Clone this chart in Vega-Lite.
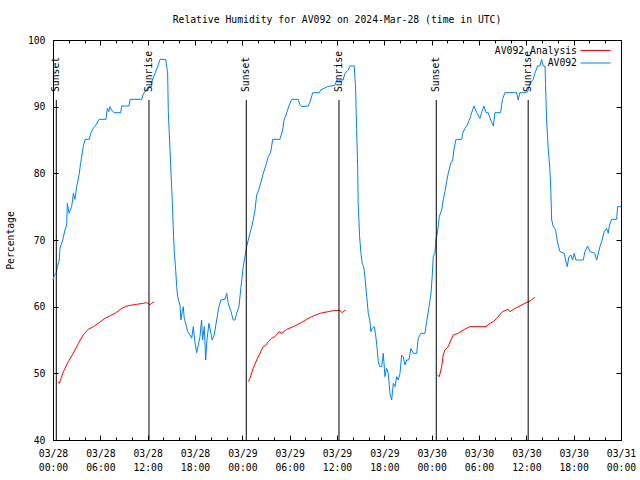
{
  "$schema": "https://vega.github.io/schema/vega-lite/v6.json",
  "width": 568,
  "height": 400,
  "autosize": {"type": "none"},
  "padding": {"left": 53, "top": 40, "right": 19, "bottom": 40},
  "background": "white",
  "title": {"text": "Relative Humidity for AV092 on 2024-Mar-28 (time in UTC)", "anchor": "middle", "offset": 10, "fontSize": 9.75, "fontWeight": "normal", "font": "DejaVu Sans Mono", "color": "black"},
  "config": {
    "view": {"stroke": "black", "strokeWidth": 1},
    "font": "DejaVu Sans Mono",
    "axis": {"domain": false, "grid": false, "labelFont": "DejaVu Sans Mono", "labelFontSize": 9.75, "labelColor": "black", "tickColor": "black", "tickWidth": 1, "titleFont": "DejaVu Sans Mono", "titleFontSize": 9.75, "titleFontWeight": "normal", "titleColor": "black"},
    "legend": {"labelFont": "DejaVu Sans Mono", "labelFontSize": 9.75, "labelColor": "black"}
  },
  "datasets": {
    "av092": [
      {"t": "2024-03-28T00:00:00Z", "v": 64}, {"t": "2024-03-28T00:10:00Z", "v": 64.75}, {"t": "2024-03-28T00:23:00Z", "v": 65}, {"t": "2024-03-28T00:33:00Z", "v": 66}, {"t": "2024-03-28T00:48:00Z", "v": 67}, {"t": "2024-03-28T00:53:00Z", "v": 68.75}, {"t": "2024-03-28T01:14:00Z", "v": 70}, {"t": "2024-03-28T01:31:00Z", "v": 71.5}, {"t": "2024-03-28T01:44:00Z", "v": 72.25}, {"t": "2024-03-28T01:49:00Z", "v": 75.5}, {"t": "2024-03-28T02:02:00Z", "v": 74}, {"t": "2024-03-28T02:22:00Z", "v": 75}, {"t": "2024-03-28T02:35:00Z", "v": 77}, {"t": "2024-03-28T02:47:00Z", "v": 76.1}, {"t": "2024-03-28T03:00:00Z", "v": 78}, {"t": "2024-03-28T03:20:00Z", "v": 80}, {"t": "2024-03-28T03:30:00Z", "v": 81.5}, {"t": "2024-03-28T03:50:00Z", "v": 84}, {"t": "2024-03-28T04:04:00Z", "v": 85.1}, {"t": "2024-03-28T04:36:00Z", "v": 85.1}, {"t": "2024-03-28T04:46:00Z", "v": 86}, {"t": "2024-03-28T05:06:00Z", "v": 86.75}, {"t": "2024-03-28T05:27:00Z", "v": 87.25}, {"t": "2024-03-28T05:52:00Z", "v": 88.1}, {"t": "2024-03-28T06:43:00Z", "v": 88.1}, {"t": "2024-03-28T06:53:00Z", "v": 89.75}, {"t": "2024-03-28T07:04:00Z", "v": 89.25}, {"t": "2024-03-28T07:13:00Z", "v": 90}, {"t": "2024-03-28T07:26:00Z", "v": 89.5}, {"t": "2024-03-28T07:44:00Z", "v": 89.1}, {"t": "2024-03-28T08:35:00Z", "v": 89.1}, {"t": "2024-03-28T08:42:00Z", "v": 90.1}, {"t": "2024-03-28T09:38:00Z", "v": 90.1}, {"t": "2024-03-28T09:46:00Z", "v": 91.1}, {"t": "2024-03-28T11:14:00Z", "v": 91.1}, {"t": "2024-03-28T11:27:00Z", "v": 91.9}, {"t": "2024-03-28T11:52:00Z", "v": 92.6}, {"t": "2024-03-28T12:05:00Z", "v": 93}, {"t": "2024-03-28T12:30:00Z", "v": 93}, {"t": "2024-03-28T12:35:00Z", "v": 94}, {"t": "2024-03-28T12:56:00Z", "v": 95}, {"t": "2024-03-28T13:16:00Z", "v": 96}, {"t": "2024-03-28T13:34:00Z", "v": 97.1}, {"t": "2024-03-28T14:17:00Z", "v": 97.1}, {"t": "2024-03-28T14:32:00Z", "v": 95}, {"t": "2024-03-28T14:37:00Z", "v": 89.25}, {"t": "2024-03-28T14:50:00Z", "v": 83.5}, {"t": "2024-03-28T14:58:00Z", "v": 79.75}, {"t": "2024-03-28T15:07:00Z", "v": 76}, {"t": "2024-03-28T15:15:00Z", "v": 71.5}, {"t": "2024-03-28T15:23:00Z", "v": 68}, {"t": "2024-03-28T15:33:00Z", "v": 65.5}, {"t": "2024-03-28T15:41:00Z", "v": 63}, {"t": "2024-03-28T15:48:00Z", "v": 61.5}, {"t": "2024-03-28T15:58:00Z", "v": 60.75}, {"t": "2024-03-28T16:06:00Z", "v": 60.25}, {"t": "2024-03-28T16:13:00Z", "v": 58}, {"t": "2024-03-28T16:23:00Z", "v": 59.25}, {"t": "2024-03-28T16:31:00Z", "v": 60}, {"t": "2024-03-28T16:38:00Z", "v": 58.25}, {"t": "2024-03-28T16:49:00Z", "v": 57.5}, {"t": "2024-03-28T17:04:00Z", "v": 56.25}, {"t": "2024-03-28T17:22:00Z", "v": 55.75}, {"t": "2024-03-28T17:35:00Z", "v": 55.25}, {"t": "2024-03-28T17:47:00Z", "v": 57}, {"t": "2024-03-28T17:59:00Z", "v": 54.75}, {"t": "2024-03-28T18:13:00Z", "v": 53.1}, {"t": "2024-03-28T18:25:00Z", "v": 54.25}, {"t": "2024-03-28T18:38:00Z", "v": 55.5}, {"t": "2024-03-28T18:50:00Z", "v": 58}, {"t": "2024-03-28T18:58:00Z", "v": 55}, {"t": "2024-03-28T19:11:00Z", "v": 57}, {"t": "2024-03-28T19:21:00Z", "v": 52}, {"t": "2024-03-28T19:31:00Z", "v": 55}, {"t": "2024-03-28T19:46:00Z", "v": 57.5}, {"t": "2024-03-28T19:56:00Z", "v": 56.5}, {"t": "2024-03-28T20:11:00Z", "v": 55}, {"t": "2024-03-28T20:26:00Z", "v": 55.75}, {"t": "2024-03-28T20:45:00Z", "v": 58}, {"t": "2024-03-28T21:02:00Z", "v": 60}, {"t": "2024-03-28T21:17:00Z", "v": 61}, {"t": "2024-03-28T21:48:00Z", "v": 61.1}, {"t": "2024-03-28T22:01:00Z", "v": 62}, {"t": "2024-03-28T22:13:00Z", "v": 60.5}, {"t": "2024-03-28T22:34:00Z", "v": 59.25}, {"t": "2024-03-28T22:51:00Z", "v": 58}, {"t": "2024-03-28T23:04:00Z", "v": 58}, {"t": "2024-03-28T23:17:00Z", "v": 59}, {"t": "2024-03-28T23:34:00Z", "v": 60}, {"t": "2024-03-28T23:50:00Z", "v": 63},
      {"t": "2024-03-29T00:07:00Z", "v": 66}, {"t": "2024-03-29T00:20:00Z", "v": 67.5}, {"t": "2024-03-29T00:33:00Z", "v": 69}, {"t": "2024-03-29T00:45:00Z", "v": 70}, {"t": "2024-03-29T00:58:00Z", "v": 71}, {"t": "2024-03-29T01:11:00Z", "v": 72}, {"t": "2024-03-29T01:23:00Z", "v": 73}, {"t": "2024-03-29T01:36:00Z", "v": 74.5}, {"t": "2024-03-29T01:49:00Z", "v": 76.75}, {"t": "2024-03-29T02:01:00Z", "v": 77.25}, {"t": "2024-03-29T02:19:00Z", "v": 78.5}, {"t": "2024-03-29T02:39:00Z", "v": 80}, {"t": "2024-03-29T03:00:00Z", "v": 81.25}, {"t": "2024-03-29T03:17:00Z", "v": 82.5}, {"t": "2024-03-29T03:35:00Z", "v": 83.1}, {"t": "2024-03-29T03:51:00Z", "v": 85.1}, {"t": "2024-03-29T04:46:00Z", "v": 85.1}, {"t": "2024-03-29T05:07:00Z", "v": 86.5}, {"t": "2024-03-29T05:17:00Z", "v": 88}, {"t": "2024-03-29T05:32:00Z", "v": 88.75}, {"t": "2024-03-29T05:57:00Z", "v": 90.25}, {"t": "2024-03-29T06:15:00Z", "v": 91.1}, {"t": "2024-03-29T07:05:00Z", "v": 91.1}, {"t": "2024-03-29T07:19:00Z", "v": 90.25}, {"t": "2024-03-29T07:31:00Z", "v": 90}, {"t": "2024-03-29T08:22:00Z", "v": 90.1}, {"t": "2024-03-29T08:40:00Z", "v": 91}, {"t": "2024-03-29T08:55:00Z", "v": 92.1}, {"t": "2024-03-29T09:45:00Z", "v": 92.1}, {"t": "2024-03-29T09:56:00Z", "v": 92.5}, {"t": "2024-03-29T10:46:00Z", "v": 93}, {"t": "2024-03-29T11:44:00Z", "v": 93.2}, {"t": "2024-03-29T11:58:00Z", "v": 94}, {"t": "2024-03-29T12:47:00Z", "v": 94}, {"t": "2024-03-29T13:00:00Z", "v": 95}, {"t": "2024-03-29T13:26:00Z", "v": 95.5}, {"t": "2024-03-29T13:38:00Z", "v": 96.1}, {"t": "2024-03-29T14:11:00Z", "v": 96.1}, {"t": "2024-03-29T14:22:00Z", "v": 92.5}, {"t": "2024-03-29T14:29:00Z", "v": 86.75}, {"t": "2024-03-29T14:37:00Z", "v": 81}, {"t": "2024-03-29T14:41:00Z", "v": 75.5}, {"t": "2024-03-29T14:52:00Z", "v": 70.5}, {"t": "2024-03-29T15:02:00Z", "v": 68}, {"t": "2024-03-29T15:12:00Z", "v": 66.5}, {"t": "2024-03-29T15:23:00Z", "v": 66}, {"t": "2024-03-29T15:32:00Z", "v": 64.5}, {"t": "2024-03-29T15:46:00Z", "v": 61.5}, {"t": "2024-03-29T15:58:00Z", "v": 59}, {"t": "2024-03-29T16:11:00Z", "v": 57.75}, {"t": "2024-03-29T16:18:00Z", "v": 56.25}, {"t": "2024-03-29T16:28:00Z", "v": 56.75}, {"t": "2024-03-29T16:43:00Z", "v": 57}, {"t": "2024-03-29T16:54:00Z", "v": 55.75}, {"t": "2024-03-29T17:04:00Z", "v": 54}, {"t": "2024-03-29T17:14:00Z", "v": 51.75}, {"t": "2024-03-29T17:25:00Z", "v": 51}, {"t": "2024-03-29T17:40:00Z", "v": 51}, {"t": "2024-03-29T17:52:00Z", "v": 53}, {"t": "2024-03-29T18:05:00Z", "v": 49.5}, {"t": "2024-03-29T18:17:00Z", "v": 50.75}, {"t": "2024-03-29T18:30:00Z", "v": 50}, {"t": "2024-03-29T18:43:00Z", "v": 47}, {"t": "2024-03-29T18:56:00Z", "v": 46}, {"t": "2024-03-29T19:08:00Z", "v": 48.5}, {"t": "2024-03-29T19:21:00Z", "v": 48}, {"t": "2024-03-29T19:34:00Z", "v": 49.5}, {"t": "2024-03-29T19:46:00Z", "v": 49}, {"t": "2024-03-29T19:59:00Z", "v": 50}, {"t": "2024-03-29T20:12:00Z", "v": 52.75}, {"t": "2024-03-29T20:24:00Z", "v": 52.5}, {"t": "2024-03-29T20:37:00Z", "v": 51.25}, {"t": "2024-03-29T20:50:00Z", "v": 52}, {"t": "2024-03-29T21:07:00Z", "v": 52}, {"t": "2024-03-29T21:22:00Z", "v": 53.75}, {"t": "2024-03-29T21:40:00Z", "v": 53}, {"t": "2024-03-29T22:06:00Z", "v": 53}, {"t": "2024-03-29T22:18:00Z", "v": 55.25}, {"t": "2024-03-29T22:38:00Z", "v": 56}, {"t": "2024-03-29T23:09:00Z", "v": 56}, {"t": "2024-03-29T23:22:00Z", "v": 57.75}, {"t": "2024-03-29T23:40:00Z", "v": 60}, {"t": "2024-03-29T23:55:00Z", "v": 62},
      {"t": "2024-03-30T00:04:00Z", "v": 64.5}, {"t": "2024-03-30T00:12:00Z", "v": 67.5}, {"t": "2024-03-30T00:25:00Z", "v": 68}, {"t": "2024-03-30T00:32:00Z", "v": 70}, {"t": "2024-03-30T00:43:00Z", "v": 71}, {"t": "2024-03-30T00:50:00Z", "v": 72}, {"t": "2024-03-30T00:58:00Z", "v": 73.5}, {"t": "2024-03-30T01:16:00Z", "v": 74.5}, {"t": "2024-03-30T01:28:00Z", "v": 76}, {"t": "2024-03-30T01:41:00Z", "v": 77.25}, {"t": "2024-03-30T01:54:00Z", "v": 78.75}, {"t": "2024-03-30T02:06:00Z", "v": 80}, {"t": "2024-03-30T02:25:00Z", "v": 81.5}, {"t": "2024-03-30T02:40:00Z", "v": 82}, {"t": "2024-03-30T02:49:00Z", "v": 83.5}, {"t": "2024-03-30T03:05:00Z", "v": 85.1}, {"t": "2024-03-30T03:48:00Z", "v": 85.1}, {"t": "2024-03-30T03:56:00Z", "v": 86}, {"t": "2024-03-30T04:13:00Z", "v": 86.75}, {"t": "2024-03-30T04:31:00Z", "v": 87.25}, {"t": "2024-03-30T04:51:00Z", "v": 88.25}, {"t": "2024-03-30T05:04:00Z", "v": 89.1}, {"t": "2024-03-30T05:22:00Z", "v": 90.1}, {"t": "2024-03-30T05:42:00Z", "v": 89.1}, {"t": "2024-03-30T06:07:00Z", "v": 88.25}, {"t": "2024-03-30T06:20:00Z", "v": 89.1}, {"t": "2024-03-30T06:38:00Z", "v": 90.1}, {"t": "2024-03-30T06:53:00Z", "v": 89.1}, {"t": "2024-03-30T07:10:00Z", "v": 89.1}, {"t": "2024-03-30T07:29:00Z", "v": 88}, {"t": "2024-03-30T07:49:00Z", "v": 87.1}, {"t": "2024-03-30T08:01:00Z", "v": 89.1}, {"t": "2024-03-30T08:44:00Z", "v": 89.1}, {"t": "2024-03-30T08:59:00Z", "v": 91.1}, {"t": "2024-03-30T09:17:00Z", "v": 92.1}, {"t": "2024-03-30T10:46:00Z", "v": 92.1}, {"t": "2024-03-30T10:58:00Z", "v": 91}, {"t": "2024-03-30T11:11:00Z", "v": 92.1}, {"t": "2024-03-30T11:49:00Z", "v": 92.1}, {"t": "2024-03-30T12:10:00Z", "v": 92.25}, {"t": "2024-03-30T12:28:00Z", "v": 93.5}, {"t": "2024-03-30T12:52:00Z", "v": 94.1}, {"t": "2024-03-30T13:05:00Z", "v": 95}, {"t": "2024-03-30T13:26:00Z", "v": 96.1}, {"t": "2024-03-30T13:43:00Z", "v": 96.1}, {"t": "2024-03-30T13:56:00Z", "v": 97.1}, {"t": "2024-03-30T14:08:00Z", "v": 96.1}, {"t": "2024-03-30T14:22:00Z", "v": 96.1}, {"t": "2024-03-30T14:26:00Z", "v": 93.5}, {"t": "2024-03-30T14:34:00Z", "v": 88}, {"t": "2024-03-30T14:47:00Z", "v": 83.5}, {"t": "2024-03-30T14:59:00Z", "v": 80.75}, {"t": "2024-03-30T15:07:00Z", "v": 77}, {"t": "2024-03-30T15:13:00Z", "v": 73}, {"t": "2024-03-30T15:25:00Z", "v": 72}, {"t": "2024-03-30T15:43:00Z", "v": 71.5}, {"t": "2024-03-30T15:50:00Z", "v": 70.5}, {"t": "2024-03-30T16:02:00Z", "v": 69.25}, {"t": "2024-03-30T16:16:00Z", "v": 68.25}, {"t": "2024-03-30T16:48:00Z", "v": 68}, {"t": "2024-03-30T16:59:00Z", "v": 67}, {"t": "2024-03-30T17:11:00Z", "v": 66}, {"t": "2024-03-30T17:24:00Z", "v": 67.5}, {"t": "2024-03-30T17:39:00Z", "v": 67.75}, {"t": "2024-03-30T17:52:00Z", "v": 67}, {"t": "2024-03-30T18:04:00Z", "v": 68}, {"t": "2024-03-30T18:17:00Z", "v": 67}, {"t": "2024-03-30T19:13:00Z", "v": 67}, {"t": "2024-03-30T19:26:00Z", "v": 68.25}, {"t": "2024-03-30T19:46:00Z", "v": 69.1}, {"t": "2024-03-30T20:04:00Z", "v": 68.25}, {"t": "2024-03-30T20:29:00Z", "v": 68.1}, {"t": "2024-03-30T20:41:00Z", "v": 68}, {"t": "2024-03-30T20:55:00Z", "v": 67}, {"t": "2024-03-30T21:20:00Z", "v": 69}, {"t": "2024-03-30T21:37:00Z", "v": 70}, {"t": "2024-03-30T21:52:00Z", "v": 71.25}, {"t": "2024-03-30T22:11:00Z", "v": 71.75}, {"t": "2024-03-30T22:23:00Z", "v": 71}, {"t": "2024-03-30T22:31:00Z", "v": 72.1}, {"t": "2024-03-30T22:49:00Z", "v": 73.1}, {"t": "2024-03-30T23:27:00Z", "v": 73.1}, {"t": "2024-03-30T23:34:00Z", "v": 75}, {"t": "2024-03-31T00:00:00Z", "v": 75}
    ],
    "analysis": [
      {"t": "2024-03-28T00:40:00Z", "v": 48.75, "seg": 1}, {"t": "2024-03-28T00:48:00Z", "v": 48.5, "seg": 1}, {"t": "2024-03-28T01:19:00Z", "v": 50.25, "seg": 1}, {"t": "2024-03-28T01:56:00Z", "v": 51.75, "seg": 1}, {"t": "2024-03-28T02:34:00Z", "v": 53, "seg": 1}, {"t": "2024-03-28T03:13:00Z", "v": 54.5, "seg": 1}, {"t": "2024-03-28T03:50:00Z", "v": 55.75, "seg": 1}, {"t": "2024-03-28T04:28:00Z", "v": 56.6, "seg": 1}, {"t": "2024-03-28T05:07:00Z", "v": 57, "seg": 1}, {"t": "2024-03-28T05:44:00Z", "v": 57.5, "seg": 1}, {"t": "2024-03-28T06:35:00Z", "v": 58.25, "seg": 1}, {"t": "2024-03-28T07:13:00Z", "v": 58.6, "seg": 1}, {"t": "2024-03-28T07:52:00Z", "v": 59, "seg": 1}, {"t": "2024-03-28T08:43:00Z", "v": 59.75, "seg": 1}, {"t": "2024-03-28T09:32:00Z", "v": 60.15, "seg": 1}, {"t": "2024-03-28T10:37:00Z", "v": 60.35, "seg": 1}, {"t": "2024-03-28T11:26:00Z", "v": 60.5, "seg": 1}, {"t": "2024-03-28T11:53:00Z", "v": 60.6, "seg": 1}, {"t": "2024-03-28T12:17:00Z", "v": 60.3, "seg": 1}, {"t": "2024-03-28T12:31:00Z", "v": 60.5, "seg": 1}, {"t": "2024-03-28T12:50:00Z", "v": 60.75, "seg": 1},
      {"t": "2024-03-29T00:45:00Z", "v": 48.75, "seg": 2}, {"t": "2024-03-29T00:58:00Z", "v": 49.25, "seg": 2}, {"t": "2024-03-29T01:23:00Z", "v": 50.75, "seg": 2}, {"t": "2024-03-29T01:49:00Z", "v": 52, "seg": 2}, {"t": "2024-03-29T02:14:00Z", "v": 53, "seg": 2}, {"t": "2024-03-29T02:39:00Z", "v": 54, "seg": 2}, {"t": "2024-03-29T03:00:00Z", "v": 54.25, "seg": 2}, {"t": "2024-03-29T03:17:00Z", "v": 54.75, "seg": 2}, {"t": "2024-03-29T03:43:00Z", "v": 55.25, "seg": 2}, {"t": "2024-03-29T04:08:00Z", "v": 55.5, "seg": 2}, {"t": "2024-03-29T04:41:00Z", "v": 56.25, "seg": 2}, {"t": "2024-03-29T04:59:00Z", "v": 56, "seg": 2}, {"t": "2024-03-29T05:37:00Z", "v": 56.6, "seg": 2}, {"t": "2024-03-29T06:28:00Z", "v": 57, "seg": 2}, {"t": "2024-03-29T07:19:00Z", "v": 57.5, "seg": 2}, {"t": "2024-03-29T08:09:00Z", "v": 58.1, "seg": 2}, {"t": "2024-03-29T08:47:00Z", "v": 58.5, "seg": 2}, {"t": "2024-03-29T09:50:00Z", "v": 59, "seg": 2}, {"t": "2024-03-29T10:53:00Z", "v": 59.25, "seg": 2}, {"t": "2024-03-29T11:44:00Z", "v": 59.45, "seg": 2}, {"t": "2024-03-29T12:22:00Z", "v": 59.4, "seg": 2}, {"t": "2024-03-29T12:40:00Z", "v": 59.1, "seg": 2}, {"t": "2024-03-29T13:01:00Z", "v": 59.5, "seg": 2},
      {"t": "2024-03-30T00:43:00Z", "v": 49.75, "seg": 3}, {"t": "2024-03-30T00:58:00Z", "v": 49.5, "seg": 3}, {"t": "2024-03-30T01:16:00Z", "v": 51, "seg": 3}, {"t": "2024-03-30T01:28:00Z", "v": 52.75, "seg": 3}, {"t": "2024-03-30T01:41:00Z", "v": 53.5, "seg": 3}, {"t": "2024-03-30T02:06:00Z", "v": 54, "seg": 3}, {"t": "2024-03-30T02:32:00Z", "v": 55.25, "seg": 3}, {"t": "2024-03-30T02:44:00Z", "v": 55.75, "seg": 3}, {"t": "2024-03-30T03:22:00Z", "v": 56, "seg": 3}, {"t": "2024-03-30T04:00:00Z", "v": 56.5, "seg": 3}, {"t": "2024-03-30T04:51:00Z", "v": 57, "seg": 3}, {"t": "2024-03-30T06:53:00Z", "v": 57, "seg": 3}, {"t": "2024-03-30T07:23:00Z", "v": 57.5, "seg": 3}, {"t": "2024-03-30T07:49:00Z", "v": 57.75, "seg": 3}, {"t": "2024-03-30T08:14:00Z", "v": 58.25, "seg": 3}, {"t": "2024-03-30T08:59:00Z", "v": 59.25, "seg": 3}, {"t": "2024-03-30T09:42:00Z", "v": 59.6, "seg": 3}, {"t": "2024-03-30T09:55:00Z", "v": 59.25, "seg": 3}, {"t": "2024-03-30T10:34:00Z", "v": 59.75, "seg": 3}, {"t": "2024-03-30T11:11:00Z", "v": 60.1, "seg": 3}, {"t": "2024-03-30T11:49:00Z", "v": 60.5, "seg": 3}, {"t": "2024-03-30T12:28:00Z", "v": 60.85, "seg": 3}, {"t": "2024-03-30T13:05:00Z", "v": 61.4, "seg": 3}
    ],
    "sun": [
      {"t": "2024-03-28T00:25:00Z", "event": "Sunset"},
      {"t": "2024-03-28T12:10:00Z", "event": "Sunrise"},
      {"t": "2024-03-29T00:30:00Z", "event": "Sunset"},
      {"t": "2024-03-29T12:15:00Z", "event": "Sunrise"},
      {"t": "2024-03-30T00:35:00Z", "event": "Sunset"},
      {"t": "2024-03-30T12:14:00Z", "event": "Sunrise"}
    ]
  },
  "resolve": {"axis": {"x": "independent", "y": "independent"}},
  "layer": [
    {
      "data": {"name": "av092"},
      "mark": {"type": "line", "strokeWidth": 1},
      "encoding": {
        "x": {"field": "t", "type": "temporal",
          "scale": {"type": "utc", "domain": [1711584000000, 1711843200000], "nice": false},
          "axis": {"orient": "bottom", "values": [1711584000000, 1711605600000, 1711627200000, 1711648800000, 1711670400000, 1711692000000, 1711713600000, 1711735200000, 1711756800000, 1711778400000, 1711800000000, 1711821600000, 1711843200000], "tickSize": -5, "labelPadding": 13, "labelExpr": "[utcFormat(datum.value, '%m/%d'), utcFormat(datum.value, '%H:%M')]", "labelLineHeight": 14, "labelFlush": false, "labelOverlap": false, "labelAlign": "center", "title": null}},
        "y": {"field": "v", "type": "quantitative",
          "scale": {"domain": [40, 100], "nice": false, "zero": false},
          "axis": {"orient": "left", "values": [40, 50, 60, 70, 80, 90, 100], "tickSize": -5, "labelPadding": 13, "title": "Percentage", "titleAngle": 270, "titleX": -43, "titleY": 200, "titleAlign": "center", "titleBaseline": "middle"}},
        "color": {"datum": "AV092",
          "scale": {"domain": ["AV092 Analysis", "AV092"], "range": ["#ff0000", "#0080ff"]},
          "legend": {"orient": "none", "legendX": 537, "legendY": 5, "title": null, "symbolType": "M-3,0H3", "symbolSize": 100, "symbolStrokeWidth": 1, "labelAlign": "right", "labelOffset": -24, "rowPadding": 1.5, "padding": 0}}
      }
    },
    {
      "data": {"name": "analysis"},
      "mark": {"type": "line", "strokeWidth": 1},
      "encoding": {
        "x": {"field": "t", "type": "temporal", "axis": {"orient": "top", "values": [1711584000000, 1711605600000, 1711627200000, 1711648800000, 1711670400000, 1711692000000, 1711713600000, 1711735200000, 1711756800000, 1711778400000, 1711800000000, 1711821600000, 1711843200000], "tickSize": -5, "labels": false, "title": null}},
        "y": {"field": "v", "type": "quantitative", "axis": {"orient": "right", "values": [40, 50, 60, 70, 80, 90, 100], "tickSize": -5, "labels": false, "title": null}},
        "color": {"datum": "AV092 Analysis"},
        "detail": {"field": "seg"}
      }
    },
    {
      "data": {"name": "sun"},
      "mark": {"type": "rule", "color": "black", "strokeWidth": 1},
      "encoding": {
        "x": {"field": "t", "type": "temporal", "axis": {"orient": "bottom", "values": [1711584000000, 1711591200000, 1711598400000, 1711605600000, 1711612800000, 1711620000000, 1711627200000, 1711634400000, 1711641600000, 1711648800000, 1711656000000, 1711663200000, 1711670400000, 1711677600000, 1711684800000, 1711692000000, 1711699200000, 1711706400000, 1711713600000, 1711720800000, 1711728000000, 1711735200000, 1711742400000, 1711749600000, 1711756800000, 1711764000000, 1711771200000, 1711778400000, 1711785600000, 1711792800000, 1711800000000, 1711807200000, 1711814400000, 1711821600000, 1711828800000, 1711836000000, 1711843200000], "tickSize": -3, "labels": false, "title": null}},
        "y": {"datum": 40, "type": "quantitative", "axis": null},
        "y2": {"datum": 91}
      }
    },
    {
      "data": {"name": "sun"},
      "mark": {"type": "text", "angle": 270, "align": "left", "baseline": "middle", "fontSize": 9.75, "font": "DejaVu Sans Mono", "color": "black"},
      "encoding": {
        "x": {"field": "t", "type": "temporal", "axis": {"orient": "top", "values": [1711584000000, 1711591200000, 1711598400000, 1711605600000, 1711612800000, 1711620000000, 1711627200000, 1711634400000, 1711641600000, 1711648800000, 1711656000000, 1711663200000, 1711670400000, 1711677600000, 1711684800000, 1711692000000, 1711699200000, 1711706400000, 1711713600000, 1711720800000, 1711728000000, 1711735200000, 1711742400000, 1711749600000, 1711756800000, 1711764000000, 1711771200000, 1711778400000, 1711785600000, 1711792800000, 1711800000000, 1711807200000, 1711814400000, 1711821600000, 1711828800000, 1711836000000, 1711843200000], "tickSize": -3, "labels": false, "title": null}},
        "y": {"datum": 92.2, "type": "quantitative", "axis": null},
        "text": {"field": "event"}
      }
    }
  ]
}
